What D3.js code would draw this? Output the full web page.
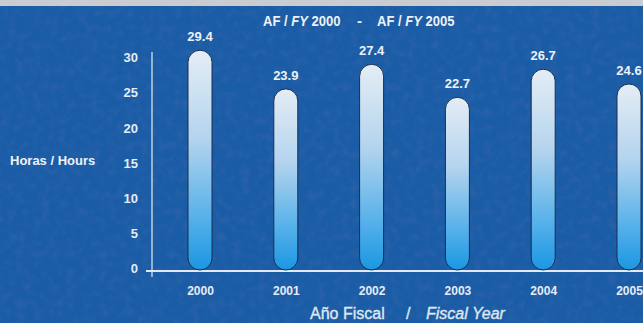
<!DOCTYPE html>
<html>
<head>
<meta charset="utf-8">
<script src="https://cdn.jsdelivr.net/npm/d3@7"></script>
<style>
  html, body { margin: 0; padding: 0; background: #1b5ea5; }
  svg { display: block; }
  text { font-family: "Liberation Sans Narrow", "Liberation Sans", Arial, sans-serif; fill: #eef2f7; }
</style>
</head>
<body>
<svg id="chart" width="643" height="323"></svg>
<script>
// Annual hours per fiscal year
const years = ["2000", "2001", "2002", "2003", "2004", "2005"];
const hours = [29.4, 23.9, 27.4, 22.7, 26.7, 24.6];
const yTicks = [0, 5, 10, 15, 20, 25, 30];
const periodStart = "2000", periodEnd = "2005";

const svg = d3.select("#chart");
const W = 643, H = 323;

const defs = svg.append("defs");

// grainy printed background
const grain = defs.append("filter").attr("id", "grain")
  .attr("x", 0).attr("y", 0).attr("width", "100%").attr("height", "100%");
grain.append("feTurbulence").attr("type", "fractalNoise")
  .attr("baseFrequency", 0.12).attr("numOctaves", 2).attr("seed", 7).attr("result", "n");
grain.append("feColorMatrix").attr("in", "n").attr("type", "matrix")
  .attr("values", "0 0 0 0 0.25  0 0 0 0 0.2  0 0 0 0 0.5  0 0 0 -1.6 0.9");

const barGrad = defs.append("linearGradient").attr("id", "barGrad")
  .attr("x1", 0).attr("y1", 0).attr("x2", 0).attr("y2", 1);
barGrad.append("stop").attr("offset", "0%").attr("stop-color", "#e4edf5");
barGrad.append("stop").attr("offset", "40%").attr("stop-color", "#b4d4ee");
barGrad.append("stop").attr("offset", "75%").attr("stop-color", "#5ab2ea");
barGrad.append("stop").attr("offset", "100%").attr("stop-color", "#1a97e2");

svg.append("rect").attr("width", W).attr("height", H).attr("fill", "#1a5da6");
svg.append("rect").attr("width", W).attr("height", H).attr("filter", "url(#grain)").attr("opacity", 0.2);
svg.append("rect").attr("width", W).attr("height", 6).attr("fill", "#c9cdd1");

const x = d3.scalePoint().domain(years).range([200, 629]);
const y = d3.scaleLinear().domain([0, 30]).range([268, 57]);
const barW = 24, r = 12;

// y axis labels
const yAxis = d3.axisLeft(y).tickValues(yTicks).tickSize(0).tickPadding(14);
const gy = svg.append("g").attr("transform", "translate(152,0)").call(yAxis);
gy.select(".domain").remove();
gy.selectAll("text").attr("font-size", 13).attr("font-weight", "bold")
  .style("fill", "#e6ecf3").attr("dy", "0.36em");

// axis lines
svg.append("line").attr("x1", 152).attr("x2", 152)
  .attr("y1", y(30) - 5).attr("y2", y(0) + 9)
  .attr("stroke", "#d9e1ea").attr("stroke-width", 1.3);
svg.append("line").attr("x1", 146).attr("x2", W)
  .attr("y1", y(0) + 3).attr("y2", y(0) + 3)
  .attr("stroke", "#e3e9f0").attr("stroke-width", 2);

// capsule bars
svg.append("g").selectAll("rect").data(years).join("rect")
  .attr("x", (d) => x(d) - barW / 2)
  .attr("y", (d, i) => y(hours[i]) - 11)
  .attr("width", barW)
  .attr("height", (d, i) => y(0) + 2 - (y(hours[i]) - 11))
  .attr("rx", r).attr("ry", r)
  .attr("fill", "url(#barGrad)")
  .attr("stroke", "#1c2c4f").attr("stroke-width", 1);

// value labels
svg.append("g").selectAll("text").data(years).join("text")
  .attr("x", (d) => x(d))
  .attr("y", (d, i) => y(hours[i]) - 20)
  .attr("text-anchor", "middle")
  .attr("font-size", 13).attr("font-weight", "bold")
  .text((d, i) => hours[i].toFixed(1));

// x axis labels
const xAxis = d3.axisBottom(x).tickSize(0).tickPadding(0);
const gx = svg.append("g").attr("transform", "translate(0,286)").call(xAxis);
gx.select(".domain").remove();
gx.selectAll("text").attr("font-size", 12).attr("font-weight", "bold")
  .style("fill", "#e6ecf3").attr("dy", "0.71em");

// title: period range, drawn slightly condensed
function fyLabel(x0, year) {
  const t = svg.append("text")
    .attr("transform", `translate(${x0},26) scale(0.87,1)`)
    .attr("font-size", 15).attr("font-weight", "bold");
  t.append("tspan").text("AF / ");
  t.append("tspan").attr("font-style", "italic").text("FY");
  t.append("tspan").text("  " + year);
}
fyLabel(263, periodStart);
svg.append("text").attr("x", 357).attr("y", 26)
  .attr("font-size", 15).attr("font-weight", "bold").text("-");
fyLabel(377, periodEnd);

// axis titles
svg.append("text").attr("x", 10).attr("y", 165)
  .attr("font-size", 13).attr("font-weight", "bold")
  .text("Horas / Hours");

const xt = svg.append("text").attr("x", 310).attr("y", 319)
  .attr("font-size", 16).style("fill", "#dfe7f0")
  .style("stroke", "#dfe7f0").style("stroke-width", 0.35);
xt.append("tspan").text("Año Fiscal");
xt.append("tspan").attr("x", 406).text("/");
xt.append("tspan").attr("x", 426).attr("font-style", "italic").text("Fiscal Year");
</script>
</body>
</html>
